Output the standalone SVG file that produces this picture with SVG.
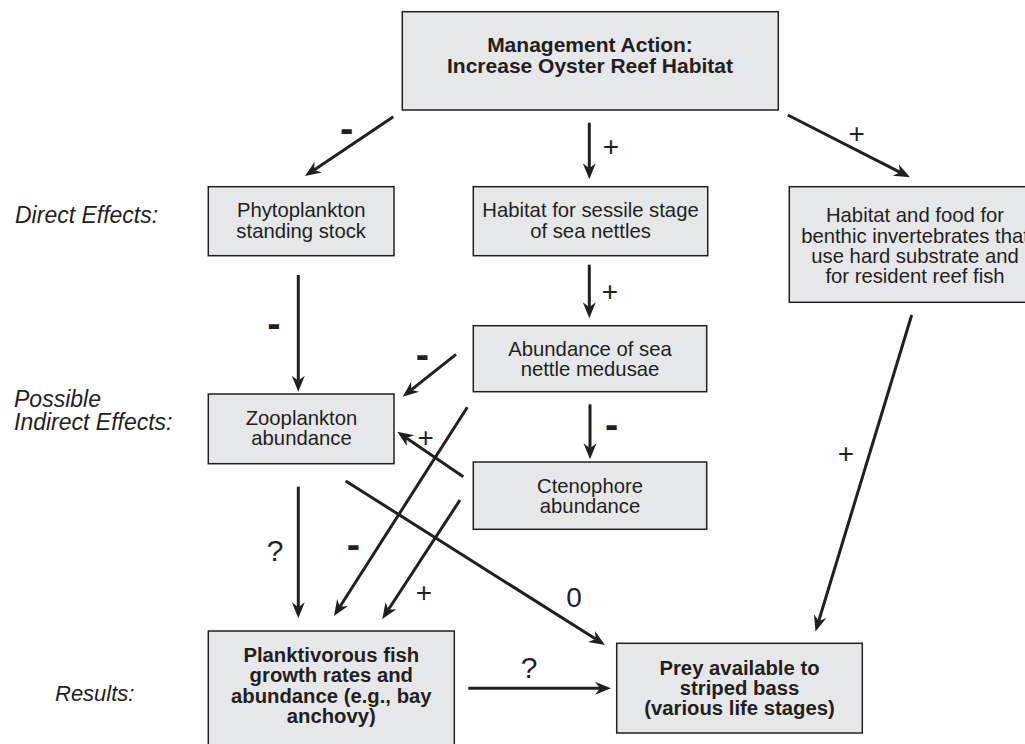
<svg xmlns="http://www.w3.org/2000/svg" width="1025" height="744" viewBox="0 0 1025 744">
  <defs>
    <!-- concave filled arrowhead; line ends at the notch, tip sits 11px further on -->
    <marker id="arrow" markerUnits="userSpaceOnUse" markerWidth="18" markerHeight="16" refX="5" refY="0" viewBox="0 -8 18 16" orient="auto" overflow="visible">
      <path d="M16,0 L0,-6.5 L5,0 L0,6.5 Z" fill="#231f20"/>
    </marker>
    <style>
      .box { fill: #e6e7e8; stroke: #231f20; stroke-width: 1.5; }
      .txt { font-family: "Liberation Sans", Arial, sans-serif; font-size: 20.3px; fill: #231f20; text-anchor: middle; }
      .bold { font-weight: bold; }
      .side { font-family: "Liberation Sans", Arial, sans-serif; font-size: 23px; font-style: italic; fill: #231f20; }
      .conn line { stroke: #231f20; stroke-width: 3; fill: none; marker-end: url(#arrow); }
      .sign { font-family: "Liberation Sans", Arial, sans-serif; font-size: 28px; fill: #231f20; text-anchor: middle; }
      .minus { font-family: "Liberation Sans", Arial, sans-serif; font-size: 40px; font-weight: bold; fill: #231f20; text-anchor: middle; }
    </style>
  </defs>
  <rect width="1025" height="744" fill="#ffffff"/>

  <!-- row captions -->
  <g id="captions">
    <text class="side" x="15" y="223">Direct Effects:</text>
    <text class="side" x="14" y="407">Possible</text>
    <text class="side" x="14" y="430">Indirect Effects:</text>
    <text class="side" x="55" y="701" style="font-size:22px">Results:</text>
  </g>

  <!-- connectors -->
  <g id="connectors" class="conn">
    <line x1="393.3" y1="116.7" x2="314.1" y2="169.9"/>
    <line x1="589.3" y1="122.7" x2="589.3" y2="168.3"/>
    <line x1="787.7" y1="115" x2="900.2" y2="172.3"/>
    <line x1="589.3" y1="264.7" x2="589.3" y2="307.3"/>
    <line x1="298.3" y1="275" x2="298.3" y2="380.7"/>
    <line x1="456" y1="354.3" x2="411.3" y2="389.9"/>
    <line x1="590" y1="404.3" x2="590" y2="448.3"/>
    <line x1="463.3" y1="476.7" x2="406.4" y2="437.9"/>
    <line x1="467.3" y1="407.3" x2="339.9" y2="606.7"/>
    <line x1="460" y1="500" x2="388.3" y2="609.8"/>
    <line x1="298.3" y1="486.7" x2="298.3" y2="607.3"/>
    <line x1="345.7" y1="481" x2="595.7" y2="639.1"/>
    <line x1="468.3" y1="688.3" x2="600" y2="688.3"/>
    <line x1="911.7" y1="315" x2="818.7" y2="621"/>
  </g>

  <!-- connector signs -->
  <g id="signs">
    <text class="minus" x="346.7" y="141.7">-</text>
    <text class="sign" x="611" y="155.6">+</text>
    <text class="sign" x="856.7" y="143.2">+</text>
    <text class="sign" x="610" y="300.6">+</text>
    <text class="minus" x="274" y="336.7">-</text>
    <text class="minus" x="422.3" y="368.3">-</text>
    <text class="sign" x="425.7" y="446.6">+</text>
    <text class="minus" x="611.7" y="437.7">-</text>
    <text class="sign" x="275" y="560.7" style="font-size:30px">?</text>
    <text class="minus" x="353.3" y="557.7">-</text>
    <text class="sign" x="424" y="601.6">+</text>
    <text class="sign" x="574" y="606.7">0</text>
    <text class="sign" x="529" y="678" style="font-size:30px">?</text>
    <text class="sign" x="846" y="463.2">+</text>
  </g>

  <g id="management">
    <rect class="box" x="402.3" y="11.7" width="376" height="98.3"/>
    <text class="txt bold" x="590" y="52" style="font-size:21px">Management Action:</text>
    <text class="txt bold" x="590" y="73" style="font-size:21px">Increase Oyster Reef Habitat</text>
  </g>

  <g id="phytoplankton">
    <rect class="box" x="208.3" y="186.7" width="185.7" height="69"/>
    <text class="txt" x="301.2" y="217">Phytoplankton</text>
    <text class="txt" x="301.2" y="237.5">standing stock</text>
  </g>

  <g id="sessile-habitat">
    <rect class="box" x="473.3" y="186.7" width="234.4" height="69"/>
    <text class="txt" x="590.5" y="217">Habitat for sessile stage</text>
    <text class="txt" x="590.5" y="237.5">of sea nettles</text>
  </g>

  <g id="benthic-habitat">
    <rect class="box" x="789.3" y="186.7" width="252" height="115.6"/>
    <text class="txt" x="915" y="222">Habitat and food for</text>
    <text class="txt" x="915" y="242.5">benthic invertebrates that</text>
    <text class="txt" x="915" y="262.8">use hard substrate and</text>
    <text class="txt" x="915" y="283">for resident reef fish</text>
  </g>

  <g id="medusae">
    <rect class="box" x="473.3" y="325.7" width="233.4" height="66"/>
    <text class="txt" x="590" y="355.5">Abundance of sea</text>
    <text class="txt" x="590" y="376">nettle medusae</text>
  </g>

  <g id="zooplankton">
    <rect class="box" x="208.3" y="394" width="185.7" height="69.7"/>
    <text class="txt" x="301.5" y="424.8">Zooplankton</text>
    <text class="txt" x="301.5" y="445.3">abundance</text>
  </g>

  <g id="ctenophore">
    <rect class="box" x="473.3" y="462" width="233.4" height="67.3"/>
    <text class="txt" x="590" y="492.8">Ctenophore</text>
    <text class="txt" x="590" y="513.2">abundance</text>
  </g>

  <g id="planktivorous-fish">
    <rect class="box" x="208.3" y="631" width="246" height="125"/>
    <text class="txt bold" x="331.3" y="661.7">Planktivorous fish</text>
    <text class="txt bold" x="331.3" y="682.3">growth rates and</text>
    <text class="txt bold" x="331.3" y="703">abundance (e.g., bay</text>
    <text class="txt bold" x="331.3" y="723.3">anchovy)</text>
  </g>

  <g id="striped-bass-prey">
    <rect class="box" x="616.7" y="643.3" width="245.6" height="89.7"/>
    <text class="txt bold" x="739.5" y="675">Prey available to</text>
    <text class="txt bold" x="739.5" y="695.2">striped bass</text>
    <text class="txt bold" x="739.5" y="715.4">(various life stages)</text>
  </g>
</svg>
